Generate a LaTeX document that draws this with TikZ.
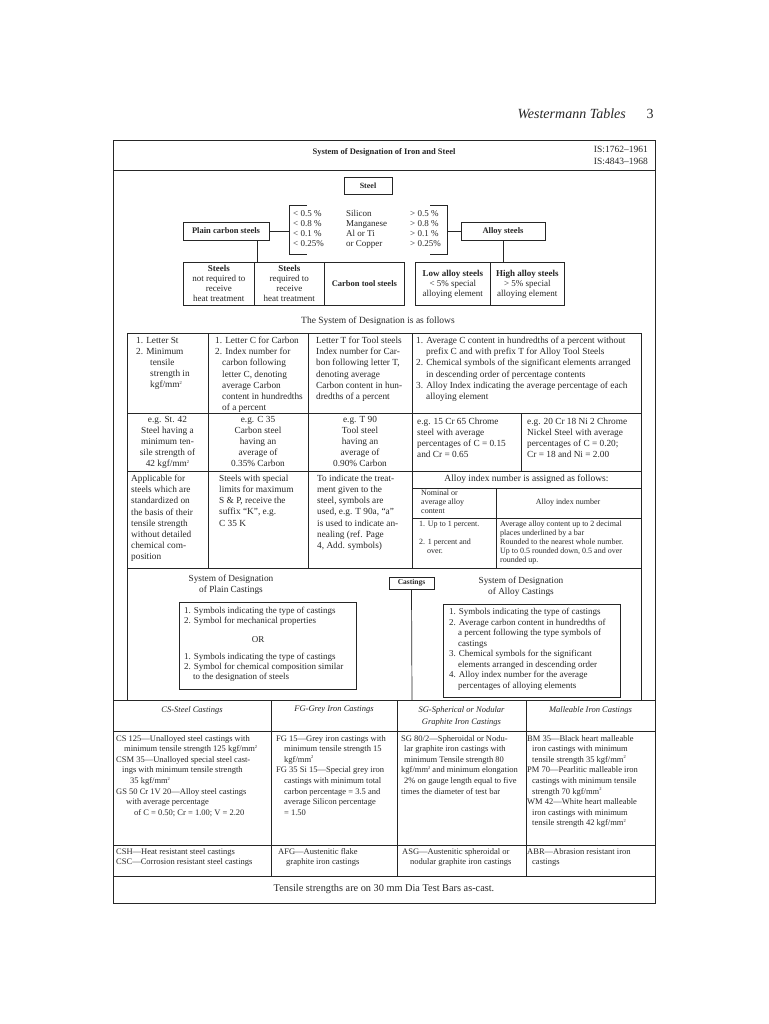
\documentclass[tikz,border=0pt]{standalone}
\usepackage{fontspec}
\setmainfont{Liberation Serif}
\usepackage{tikz}
\usetikzlibrary{positioning}

\definecolor{ink}{gray}{0.15}
\newcommand{\tabfont}{\fontsize{9.3}{11.1}\selectfont}
\newcommand{\treefont}{\fontsize{9}{10}\selectfont}
\newcommand{\castfont}{\fontsize{8.5}{10.6}\selectfont}
\newcommand{\tinyfont}{\fontsize{8}{9}\selectfont}
\newcommand{\indt}[1]{\hspace*{#1pt}}
\newcommand{\kgfmm}{kgf/mm\raisebox{0.85ex}{\fontsize{4.5}{5}\selectfont 2}}

\begin{document}
\begin{tikzpicture}[
    x=1pt, y=-1pt,
    outerframe/.style={draw=ink, line width=1pt},
    gridline/.style={draw=ink, line width=0.7pt},
    box/.style={draw=ink, line width=0.7pt, inner sep=0pt, align=center, text=ink, font=\treefont},
    boldbox/.style={box, font=\fontsize{8.5}{10}\selectfont\bfseries},
    cell/.style={inner sep=0pt, align=left, anchor=north west, text=ink, font=\tabfont},
    ccell/.style={cell, align=center, anchor=north},
    castcell/.style={cell, font=\castfont},
    colhead/.style={inner sep=0pt, align=center, text=ink, font=\castfont\itshape},
    tinycell/.style={cell, font=\tinyfont}
]
\useasboundingbox (0,0) rectangle (768,1024);

% running head
\node[anchor=base east, inner sep=0pt, text=ink, font=\fontsize{14}{16}\selectfont\itshape] (runhead) at (626,119) {Westermann Tables};
\node[anchor=base, inner sep=0pt, text=ink, font=\fontsize{14}{16}\selectfont] (pagenum) at (650,119) {3};

% frame and header
\draw[outerframe] (113,141) rectangle (655,903);
\draw[gridline] (113,170) -- (655,170);
\node[inner sep=0pt, text=ink, font=\fontsize{8.5}{10}\selectfont\bfseries] (title) at (384,152) {System of Designation of Iron and Steel};
\node[inner sep=0pt, anchor=north east, align=right, text=ink, font=\fontsize{9.5}{12}\selectfont] (isno) at (648,146) {IS:1762–1961\\IS:4843–1968};

% steel tree
\node[boldbox, font=\fontsize{8}{10}\selectfont\bfseries, minimum width=48pt, minimum height=17pt] (steel) at (368,185.5) {Steel};
\node[boldbox, minimum width=86pt, minimum height=18pt] (plain) at (226,231) {Plain carbon steels};
\node[boldbox, minimum width=84pt, minimum height=18pt] (alloy) at (503,231) {Alloy steels};
\node[inner sep=0pt, anchor=north west, text=ink, font=\treefont] (limits) at (293,209) {\begin{tabular}{@{}p{53pt}@{}p{64pt}@{}l@{}}
< 0.5 \% & Silicon & > 0.5 \%\\
< 0.8 \% & Manganese & > 0.8 \%\\
< 0.1 \% & Al or Ti & > 0.1 \%\\
< 0.25\% & or Copper & > 0.25\%
\end{tabular}};
\draw[gridline] (307,205) -- (289,205) -- (289,254) -- (307,254);
\draw[gridline] (430,205) -- (447,205) -- (447,254) -- (430,254);
\coordinate (lbrk) at (289,231);
\coordinate (rbrk) at (447,231);
\draw[gridline] (plain) -- (lbrk);
\draw[gridline] (rbrk) -- (alloy);

\node[box, anchor=north west, minimum width=71pt, minimum height=43pt] (notreq) at (183,262) {\textbf{Steels}\\not required to\\receive\\heat treatment};
\node[box, anchor=north west, minimum width=70pt, minimum height=43pt] (req) at (254,262) {\textbf{Steels}\\required to\\receive\\heat treatment};
\node[boldbox, anchor=north west, minimum width=80pt, minimum height=43pt] (tool) at (324,262) {Carbon tool steels};
\node[box, anchor=north west, minimum width=75pt, minimum height=43pt] (lowalloy) at (415,262) {\textbf{Low alloy steels}\\< 5\% special\\alloying element};
\node[box, anchor=north west, minimum width=74pt, minimum height=43pt] (highalloy) at (490,262) {\textbf{High alloy steels}\\> 5\% special\\alloying element};
\coordinate (ptap) at (257,262);
\draw[gridline] (plain.south -| ptap) -- (ptap);
\draw[gridline] (alloy.south) -- (alloy.south |- lowalloy.north);

\node[inner sep=0pt, text=ink, font=\fontsize{9.5}{11}\selectfont] (follows) at (378,321) {The System of Designation is as follows};

% designation table
\draw[gridline] (127,333) rectangle (641,700);
\draw[gridline] (127,413) -- (641,413);
\draw[gridline] (127,471) -- (641,471);
\draw[gridline] (127,568) -- (641,568);
\draw[gridline] (208,333) -- (208,568);
\draw[gridline] (308,333) -- (308,568);
\draw[gridline] (412,333) -- (412,568);
\draw[gridline] (521,413) -- (521,471);
\draw[gridline] (412,488) -- (641,488);
\draw[gridline] (412,518) -- (641,518);
\draw[gridline] (496,488) -- (496,568);

\node[cell] (st1) at (136,337) {1. Letter St\\2. Minimum\\\indt{14}tensile\\\indt{14}strength in\\\indt{14}\kgfmm};
\node[cell] (c1) at (215,337) {1. Letter C for Carbon\\2. Index number for\\\indt{7}carbon following\\\indt{7}letter C, denoting\\\indt{7}average Carbon\\\indt{7}content in hundredths\\\indt{7}of a percent};
\node[cell] (t1) at (316,337) {Letter T for Tool steels\\Index number for Car-\\bon following letter T,\\denoting average\\Carbon content in hun-\\dredths of a percent};
\node[cell] (a1) at (416,337) {1. Average C content in hundredths of a percent without\\\indt{10}prefix C and with prefix T for Alloy Tool Steels\\2. Chemical symbols of the significant elements arranged\\\indt{10}in descending order of percentage contents\\3. Alloy Index indicating the average percentage of each\\\indt{10}alloying element};

\node[ccell] (st2) at (167.5,416) {e.g. St. 42\\Steel having a\\minimum ten-\\sile strength of\\42 \kgfmm};
\node[ccell] (c2) at (258,416) {e.g. C 35\\Carbon steel\\having an\\average of\\0.35\% Carbon};
\node[ccell] (t2) at (360,416) {e.g. T 90\\Tool steel\\having an\\average of\\0.90\% Carbon};
\node[cell] (a2) at (417,418) {e.g. 15 Cr 65 Chrome\\steel with average\\percentages of C = 0.15\\and Cr = 0.65};
\node[cell] (b2) at (527,418) {e.g. 20 Cr 18 Ni 2 Chrome\\Nickel Steel with average\\percentages of C = 0.20;\\Cr = 18 and Ni = 2.00};

\node[cell] (st3) at (131,475) {Applicable for\\steels which are\\standardized on\\the basis of their\\tensile strength\\without detailed\\chemical com-\\position};
\node[cell] (c3) at (219,475) {Steels with special\\limits for maximum\\S \& P, receive the\\suffix “K”, e.g.\\C 35 K};
\node[cell] (t3) at (317,475) {To indicate the treat-\\ment given to the\\steel, symbols are\\used, e.g. T 90a, “a”\\is used to indicate an-\\nealing (ref. Page\\4, Add. symbols)};
\node[inner sep=0pt, text=ink, font=\fontsize{9.5}{11}\selectfont] (idxhead) at (526.5,479.5) {Alloy index number is assigned as follows:};
\node[tinycell] (nominal) at (421,490) {Nominal or\\average alloy\\content};
\node[inner sep=0pt, text=ink, font=\tinyfont] (idxnum) at (568,503) {Alloy index number};
\node[tinycell] (upto) at (419,521) {1. Up to 1 percent.\\[9pt]2. 1 percent and\\\indt{8}over.};
\node[tinycell] (rule) at (500,521) {Average alloy content up to 2 decimal\\places underlined by a bar\\Rounded to the nearest whole number.\\Up to 0.5 rounded down, 0.5 and over\\rounded up.};

% castings
\node[boldbox, font=\fontsize{7.5}{9}\selectfont\bfseries, minimum width=45pt, minimum height=12pt] (castings) at (411.5,583) {Castings};
\coordinate (castfoot) at (412,700);
\draw[gridline] (castings.south) -- (castfoot);
\node[inner sep=0pt, align=center, text=ink, font=\fontsize{9.3}{11}\selectfont] (plaintitle) at (231,584.5) {System of Designation\\of Plain Castings};
\node[inner sep=0pt, align=center, text=ink, font=\fontsize{9.3}{11}\selectfont] (alloytitle) at (521,586.5) {System of Designation\\of Alloy Castings};
\node[box, minimum width=177pt, minimum height=87pt] (plainbox) at (267.5,645.5) {};
\node[castcell, font=\fontsize{9}{10.2}\selectfont] (plaintext) at (184,607) {1. Symbols indicating the type of castings\\2. Symbol for mechanical properties\\[8.5pt]\makebox[148pt]{OR}\\[6.5pt]1. Symbols indicating the type of castings\\2. Symbol for chemical composition similar\\\indt{9}to the designation of steels};
\node[box, minimum width=177pt, minimum height=93pt] (alloybox) at (531.5,650.5) {};
\node[castcell, font=\fontsize{9}{10.5}\selectfont] (alloytext) at (449,608) {1. Symbols indicating the type of castings\\2. Average carbon content in hundredths of\\\indt{9}a percent following the type symbols of\\\indt{9}castings\\3. Chemical symbols for the significant\\\indt{9}elements arranged in descending order\\4. Alloy index number for the average\\\indt{9}percentages of alloying elements};

% castings table
\draw[gridline] (113,700) -- (655,700);
\draw[gridline] (113,731) -- (655,731);
\draw[gridline] (113,845) -- (655,845);
\draw[gridline] (113,876) -- (655,876);
\draw[gridline] (271,700) -- (271,876);
\draw[gridline] (397,700) -- (397,876);
\draw[gridline] (526,700) -- (526,876);

\node[colhead] (cshead) at (192,710) {CS-Steel Castings};
\node[colhead] (fghead) at (334,710) {FG-Grey Iron Castings};
\node[colhead, font=\fontsize{8.5}{12}\selectfont\itshape] (sghead) at (461.5,716) {SG-Spherical or Nodular\\Graphite Iron Castings};
\node[colhead] (mahead) at (590.5,710) {Malleable Iron Castings};

\node[castcell] (cs) at (116,735) {CS 125—Unalloyed steel castings with\\\indt{8}minimum tensile strength 125 \kgfmm\\CSM 35—Unalloyed special steel cast-\\\indt{6}ings with minimum tensile strength\\\indt{14}35 \kgfmm\\GS 50 Cr 1V 20—Alloy steel castings\\\indt{10}with average percentage\\\indt{18}of C = 0.50; Cr = 1.00; V = 2.20};
\node[castcell] (fg) at (276,735) {FG 15—Grey iron castings with\\\indt{8}minimum tensile strength 15\\\indt{8}\kgfmm\\FG 35 Si 15—Special grey iron\\\indt{8}castings with minimum total\\\indt{8}carbon percentage = 3.5 and\\\indt{8}average Silicon percentage\\\indt{8}= 1.50};
\node[castcell] (sg) at (401,735) {SG 80/2—Spheroidal or Nodu-\\\indt{3}lar graphite iron castings with\\\indt{3}minimum Tensile strength 80\\\kgfmm{} and minimum elongation\\\indt{3}2\% on gauge length equal to five\\times the diameter of test bar};
\node[castcell] (ma) at (527,735) {BM 35—Black heart malleable\\\indt{5}iron castings with minimum\\\indt{5}tensile strength 35 \kgfmm\\PM 70—Pearlitic malleable iron\\\indt{5}castings with minimum tensile\\\indt{5}strength 70 \kgfmm\\WM 42—White heart malleable\\\indt{5}iron castings with minimum\\\indt{5}tensile strength 42 \kgfmm};

\node[castcell] (csh) at (116,848) {CSH—Heat resistant steel castings\\CSC—Corrosion resistant steel castings};
\node[castcell] (afg) at (278,848) {AFG—Austenitic flake\\\indt{8}graphite iron castings};
\node[castcell] (asg) at (402,848) {ASG—Austenitic spheroidal or\\\indt{8}nodular graphite iron castings};
\node[castcell] (abr) at (527,848) {ABR—Abrasion resistant iron\\\indt{5}castings};

\node[inner sep=0pt, text=ink, font=\fontsize{10.3}{12}\selectfont] (tensile) at (384,889) {Tensile strengths are on 30 mm Dia Test Bars as-cast.};
\end{tikzpicture}
\end{document}
